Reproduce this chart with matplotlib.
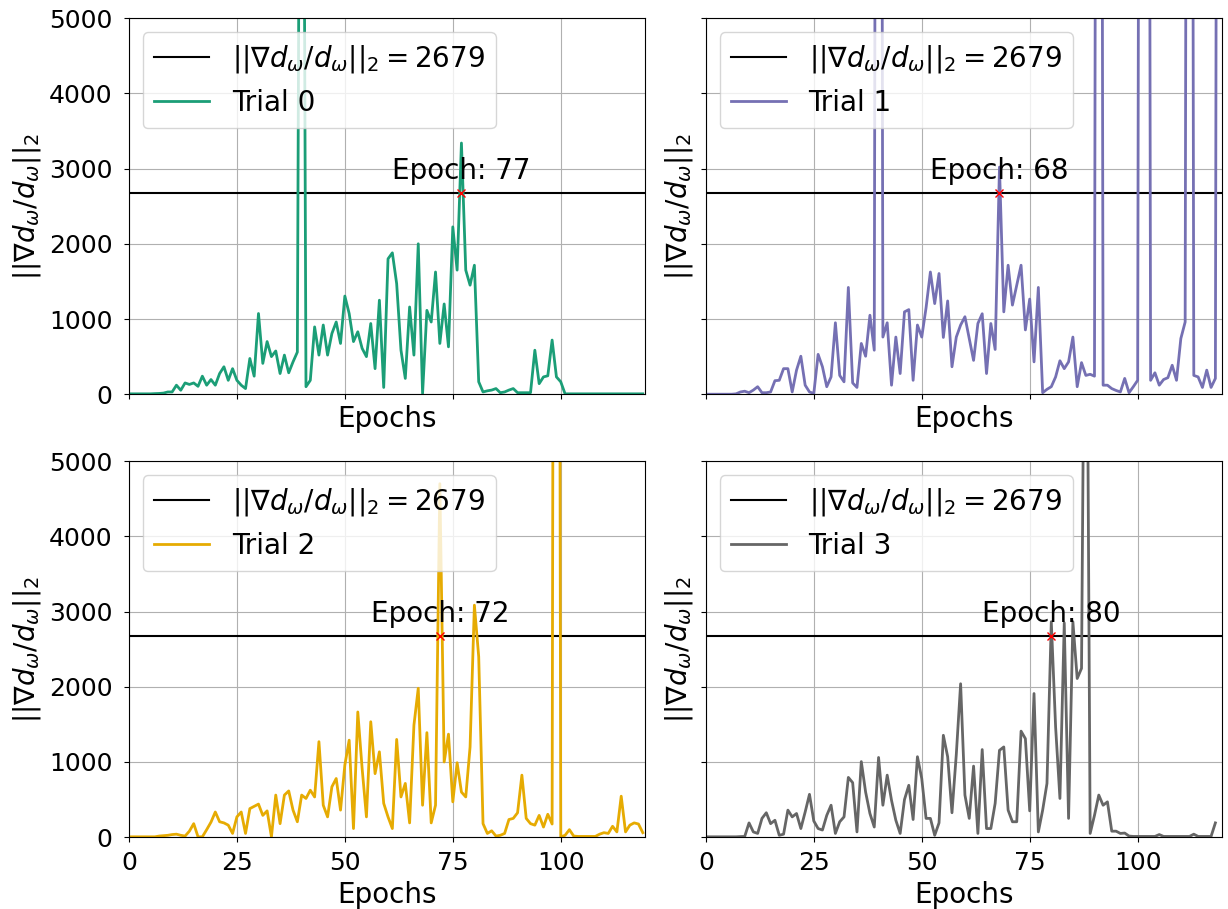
import numpy as np
import matplotlib.pyplot as plt

# gradient norm threshold and the epoch where each trial first crosses it
threshold = 2679
cross_epochs = [77, 68, 72, 80]

trial_0 = [5, 5, 5, 5, 5, 5, 8, 10, 15, 30,
           30, 120, 53, 150, 130, 150, 105, 240, 120, 195,
           120, 275, 365, 185, 340, 185, 120, 75, 475, 240,
           1073, 410, 700, 500, 575, 275, 520, 285, 430, 560,
           15000, 100, 185, 895, 520, 920, 520, 807, 960, 675,
           1305, 1073, 700, 830, 610, 500, 940, 340, 1250, 90,
           1800, 1880, 1470, 585, 210, 1160, 520, 2000, 10, 1115,
           960, 1625, 675, 1200, 630, 2225, 1650, 3340, 1650, 1450,
           1715, 165, 30, 45, 55, 75, 20, 30, 55, 75,
           20, 20, 20, 20, 585, 140, 230, 245, 720, 230,
           165, 5, 5, 5, 5, 5, 5, 5, 5, 5,
           5, 5, 5, 5, 5, 5, 5, 5, 5, 5]

trial_1 = [0, 0, 0, 0, 0, 0, 0, 5, 30, 40,
           20, 55, 100, 20, 20, 30, 180, 185, 340, 340,
           30, 320, 505, 120, 30, 10, 530, 365, 100, 230,
           950, 250, 165, 1420, 150, 90, 675, 505, 1050, 585,
           30000, 760, 950, 120, 760, 275, 1095, 1125, 185, 920,
           760, 1150, 1625, 1205, 1605, 755, 1240, 365, 760, 920,
           1030, 740, 450, 940, 1070, 275, 940, 595, 3020, 1095,
           1715, 1185, 1450, 1715, 855, 1265, 430, 1420, 20, 65,
           100, 230, 445, 340, 430, 760, 100, 420, 250, 265,
           240, 30000, 120, 120, 75, 50, 30, 210, 20, 100,
           185, 30000, 30000, 185, 285, 120, 195, 220, 385, 185,
           740, 960, 30000, 250, 230, 90, 320, 90, 210, 30000]

trial_2 = [5, 5, 5, 5, 5, 5, 5, 15, 20, 25,
           35, 40, 25, 15, 80, 180, 5, 5, 100, 200,
           335, 205, 190, 160, 50, 270, 335, 50, 380, 410,
           440, 290, 350, 5, 560, 180, 560, 615, 360, 205,
           560, 515, 625, 535, 1270, 425, 270, 670, 780, 360,
           960, 1290, 115, 1665, 915, 270, 1535, 845, 1135, 450,
           270, 115, 1300, 535, 715, 190, 1490, 1980, 425, 1390,
           190, 425, 4700, 1000, 1370, 470, 990, 600, 535, 1200,
           3085, 2400, 180, 50, 85, 15, 25, 50, 235, 250,
           325, 825, 250, 180, 160, 290, 135, 305, 175, 30000,
           5, 25, 100, 15, 10, 10, 10, 10, 10, 40,
           60, 50, 145, 70, 545, 70, 160, 190, 175, 60]

trial_3 = [5, 5, 5, 5, 5, 5, 5, 5, 8, 10,
           190, 70, 50, 250, 325, 180, 225, 25, 40, 360,
           270, 315, 115, 335, 570, 215, 115, 95, 290, 425,
           50, 205, 270, 795, 725, 70, 1005, 600, 315, 135,
           1060, 425, 825, 490, 225, 50, 500, 690, 235, 1070,
           780, 250, 250, 25, 190, 1355, 1070, 325, 1100, 2040,
           560, 250, 945, 50, 1165, 115, 115, 450, 1155, 1200,
           360, 205, 205, 1410, 1310, 350, 1910, 70, 360, 715,
           2865, 1465, 515, 2850, 250, 2865, 2110, 2245, 10000, 50,
           290, 560, 425, 470, 80, 80, 50, 55, 15, 10,
           10, 10, 10, 10, 10, 35, 10, 10, 10, 10,
           10, 10, 10, 40, 10, 10, 10, 10, 190]

trials = [trial_0, trial_1, trial_2, trial_3]
colors = ['#1b9e77', '#7570b3', '#e6ab02', '#666666']

fig, axes = plt.subplots(2, 2, figsize=(12.28, 9.09), sharex=True, sharey=True)

for k, ax in enumerate(axes.flat):
    grad = np.array(trials[k])
    epochs = np.arange(len(grad))
    ax.axhline(threshold, color='black', lw=1.5,
               label=r'$||\nabla d_\omega/d_\omega||_2 = %d$' % threshold)
    ax.plot(epochs, grad, color=colors[k], lw=2, label='Trial %d' % k)
    ax.plot(cross_epochs[k], threshold, 'x', color='red', ms=6)
    ax.text(cross_epochs[k], threshold + 100, 'Epoch: %d' % cross_epochs[k],
            ha='center', va='bottom', fontsize=20)
    ax.set_xlim(0, 119.5)
    ax.set_ylim(0, 5000)
    ax.set_xticks([0, 25, 50, 75, 100])
    ax.grid(True)
    ax.set_xlabel('Epochs', fontsize=20)
    ax.set_ylabel(r'$||\nabla d_\omega/d_\omega||_2$', fontsize=20)
    ax.tick_params(labelsize=18)
    ax.tick_params(axis='x', pad=6.5)
    ax.tick_params(axis='y', pad=8.5)
    ax.legend(loc='upper left', fontsize=20)

plt.subplots_adjust(left=0.105, right=0.995, top=0.98, bottom=0.079,
                    wspace=0.118, hspace=0.178)
plt.savefig('out.png', dpi=100)
